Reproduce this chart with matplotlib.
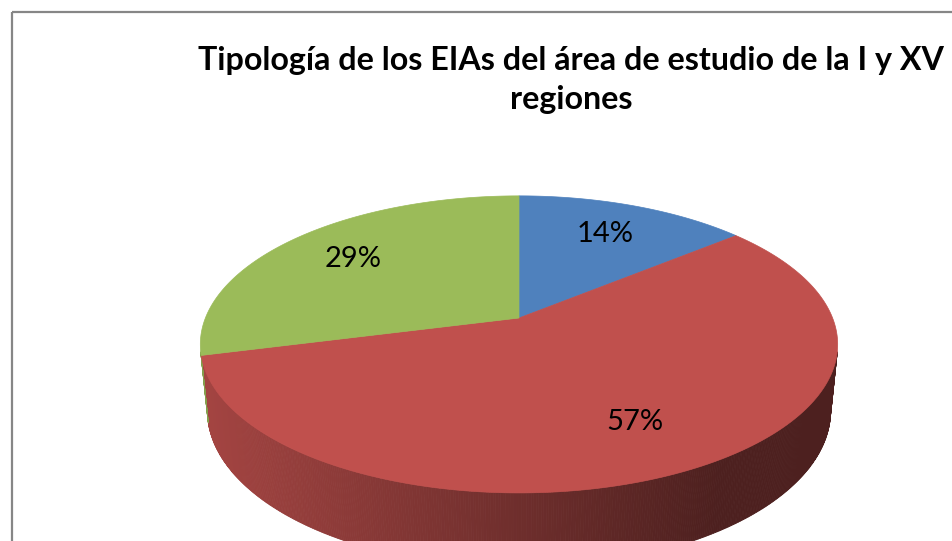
import numpy as np
import matplotlib.pyplot as plt
from matplotlib.patches import Polygon, Rectangle

# data (clockwise from 12 o'clock)
values = [14, 57, 29]
colors = ['#4F81BD', '#C0504D', '#9BBB59']
title = 'Tipología de los EIAs del área de estudio de la I y XV\nregiones'

# 3D view of the pie (pixels of the output image)
cx, cy = 519, 318        # projected pie centre
f, D = 1568, 5.0         # focal length / camera distance (radius = 1)
elev = np.radians(27.3)
depth = 0.24             # pie thickness
label_r = 0.72


def project(theta, r=1.0, y=0.0):
    x = r * np.sin(theta)
    z = r * np.cos(theta)
    v = y * np.cos(elev) + z * np.sin(elev)
    w = D + z * np.cos(elev) - y * np.sin(elev)
    return cx + f * x / w, cy - f * v / w


def shade(x):
    # side wall gets darker from left to right
    t = np.clip((x - 205) / (720 - 205), 0, 1)
    return 0.85 - 0.45 * t


fig = plt.figure(figsize=(9.53, 5.41), dpi=100)
ax = fig.add_axes([0, 0, 1, 1])
ax.set_xlim(0, 953)
ax.set_ylim(541, 0)
ax.axis('off')

# chart frame
ax.add_patch(Rectangle((12, 12), 1200, 800, fill=False, edgecolor='#868686', lw=1.6))

fracs = np.array(values) / sum(values)
bounds = np.concatenate([[0], np.cumsum(fracs)]) * 2 * np.pi

# side wall: only the part facing the camera
half = np.arccos(-1 / (D * np.cos(elev)))
lo, hi = half, 2 * np.pi - half
for i, col in enumerate(colors):
    a, b = max(bounds[i], lo), min(bounds[i + 1], hi)
    if a >= b:
        continue
    rgb = np.array(plt.matplotlib.colors.to_rgb(col))
    th = np.linspace(a, b, int((b - a) * 150) + 2)
    for t0, t1 in zip(th[:-1], th[1:]):
        x0, y0 = project(t0)
        x1, y1 = project(t1)
        x2, y2 = project(t1, y=-depth)
        x3, y3 = project(t0, y=-depth)
        c = rgb * shade((x0 + x1) / 2)
        ax.add_patch(Polygon([(x0, y0), (x1, y1), (x2, y2), (x3, y3)],
                             closed=True, facecolor=c, edgecolor=c, lw=0.6))

# top face
for i, col in enumerate(colors):
    th = np.linspace(bounds[i], bounds[i + 1], 200)
    xs, ys = project(th)
    pts = [(cx, cy)] + list(zip(xs, ys))
    ax.add_patch(Polygon(pts, closed=True, facecolor=col, edgecolor=col, lw=0.5))

# percentage labels
for i, v in enumerate(values):
    mid = (bounds[i] + bounds[i + 1]) / 2
    lx, ly = project(mid, r=label_r)
    ax.text(lx, ly, f'{v}%', ha='center', va='center', fontsize=21,
            family='Lato', color='black')

ax.text(571, 80, title, ha='center', va='center', fontsize=23.2, family='Lato',
        fontweight='bold', linespacing=1.4)

fig.savefig('out.png', dpi=100)
